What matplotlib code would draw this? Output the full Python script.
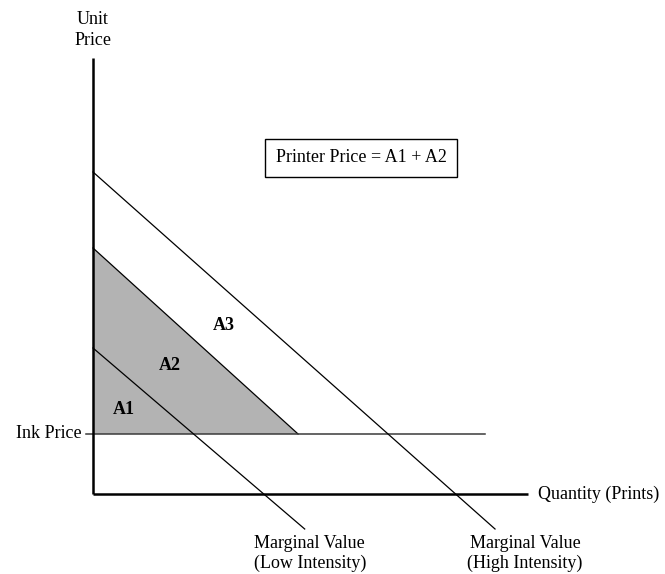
import matplotlib.pyplot as plt

# values in chart units (origin = axes corner)
ink_price = 6.0
low_intercept = 14.6
mid_intercept = 24.6
high_intercept = 32.2
low_slope = -0.855
mid_slope = -0.907
high_slope = -0.888
x_max = 43.5
y_max = 43.6
ink_line_end = 39.2
line_bottom = -3.5

area_labels = ['A1', 'A2', 'A3']
area_x = [3.1, 7.7, 13.1]
area_y = [8.4, 12.8, 16.9]

plt.rcParams['font.family'] = ['Liberation Serif', 'DejaVu Serif']
fs = 13

fig = plt.figure(figsize=(6.65, 5.74), dpi=100)
ax = fig.add_axes([0, 0, 1, 1])
ax.set_xlim(-9.3, 57.2)
ax.set_ylim(-8.0, 49.4)
ax.axis('off')

# shaded area A1 + A2
mid_end = (ink_price - mid_intercept) / mid_slope
ax.fill([0, 0, mid_end], [mid_intercept, ink_price, ink_price], color='#b3b3b3', lw=0)
ax.plot([0, mid_end], [mid_intercept, ink_price], color='black', lw=0.9)

# ink price line
ax.plot([-0.7, ink_line_end], [ink_price, ink_price], color='#3a3a3a', lw=1.1)

# marginal value lines
low_end = (line_bottom - low_intercept) / low_slope
high_end = (line_bottom - high_intercept) / high_slope
ax.plot([0, low_end], [low_intercept, line_bottom], color='black', lw=0.9)
ax.plot([0, high_end], [high_intercept, line_bottom], color='black', lw=0.9)

# axes
ax.plot([0, 0], [0, y_max], color='black', lw=1.8, solid_capstyle='butt')
ax.plot([0, x_max], [0, 0], color='black', lw=1.8, solid_capstyle='butt')

# labels
ax.text(0, 44.5, 'Unit\nPrice', ha='center', va='bottom', fontsize=fs, linespacing=1.3)
ax.text(-1.1, ink_price, 'Ink Price', ha='right', va='center', fontsize=fs)
ax.text(44.5, 0, 'Quantity (Prints)', ha='left', va='center', fontsize=fs)
ax.text(low_end + 0.5, line_bottom - 0.55, 'Marginal Value\n(Low Intensity)', ha='center', va='top',
        fontsize=fs, linespacing=1.25)
ax.text(high_end + 3.0, line_bottom - 0.55, 'Marginal Value\n(High Intensity)', ha='center', va='top',
        fontsize=fs, linespacing=1.25)

for lab, x, y in zip(area_labels, area_x, area_y):
    ax.text(x, y, lab, ha='center', va='center', fontsize=fs, fontweight='bold')

ax.text(26.8, 33.6, 'Printer Price = A1 + A2', ha='center', va='center', fontsize=fs,
        bbox=dict(boxstyle='square,pad=0.6', fc='white', ec='black', lw=1.0))

fig.savefig('out.png', dpi=100)
